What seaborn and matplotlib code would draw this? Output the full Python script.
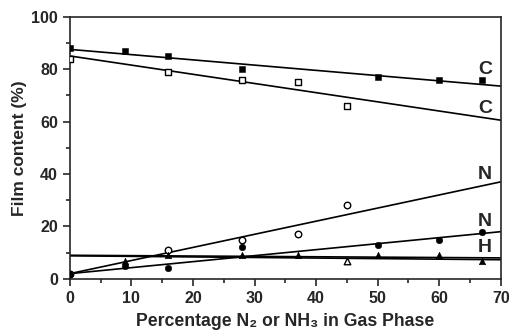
import numpy as np
import pandas as pd
import matplotlib.pyplot as plt
import seaborn as sns

# data
c_nh3_x = [0, 9, 16, 28, 50, 60, 67]
c_nh3_y = [88, 87, 85, 80, 77, 76, 76]
c_n2_x = [0, 16, 28, 37, 45]
c_n2_y = [84, 79, 76, 75, 66]
n_n2_x = [0, 16, 28, 37, 45]
n_n2_y = [2, 11, 15, 17, 28]
n_nh3_x = [0, 9, 16, 28, 50, 60, 67]
n_nh3_y = [2, 5, 4, 12, 13, 15, 18]
h_nh3_x = [9, 16, 28, 37, 50, 60, 67]
h_nh3_y = [7, 9, 9, 9, 9, 9, 7]
h_n2_x = [45]
h_n2_y = [7]

# fitted lines (end points)
fit_x = [0, 70]
fit_c_nh3 = [87.5, 73.5]
fit_c_n2 = [85, 60.5]
fit_n_n2 = [2, 37]
fit_n_nh3 = [2, 18]
fit_h_nh3 = [9, 8]
fit_h_n2 = [8.8, 7.3]

sns.set_style('ticks')
plt.rcParams['font.family'] = ['Liberation Sans', 'DejaVu Sans']
plt.rcParams['font.weight'] = 'bold'

fig = plt.figure(figsize=(5.1, 3.32), dpi=100)
ax = fig.add_axes([0.137, 0.16, 0.845, 0.79])

for fy in [fit_c_nh3, fit_c_n2, fit_n_n2, fit_n_nh3, fit_h_nh3, fit_h_n2]:
    sns.lineplot(x=fit_x, y=fy, ax=ax, color='black', lw=1.2)

ms = 22
sns.scatterplot(x=c_nh3_x, y=c_nh3_y, ax=ax, marker='s', color='black', s=ms, edgecolor='black', zorder=3)
sns.scatterplot(x=c_n2_x, y=c_n2_y, ax=ax, marker='s', facecolor='white', s=ms, edgecolor='black', linewidth=1, zorder=3)
sns.scatterplot(x=n_n2_x, y=n_n2_y, ax=ax, marker='o', facecolor='white', s=ms, edgecolor='black', linewidth=1, zorder=3)
sns.scatterplot(x=n_nh3_x, y=n_nh3_y, ax=ax, marker='o', color='black', s=ms, edgecolor='black', zorder=3)
sns.scatterplot(x=h_nh3_x, y=h_nh3_y, ax=ax, marker='^', color='black', s=ms, edgecolor='black', zorder=3)
sns.scatterplot(x=h_n2_x, y=h_n2_y, ax=ax, marker='^', facecolor='white', s=ms, edgecolor='black', linewidth=1, zorder=3)

lab_kw = dict(fontsize=14, fontweight='bold', ha='center', va='center')
ax.text(67.4, 80, 'C', **lab_kw)
ax.text(67.4, 65, 'C', **lab_kw)
ax.text(67.4, 39.8, 'N', **lab_kw)
ax.text(67.4, 22, 'N', **lab_kw)
ax.text(67.4, 12, 'H', **lab_kw)

ax.set_xlim(0, 70)
ax.set_ylim(0, 100)
ax.set_xticks(np.arange(0, 71, 10))
ax.set_xticks(np.arange(0, 71, 5), minor=True)
ax.set_yticks(np.arange(0, 101, 20))
ax.set_yticks(np.arange(0, 101, 10), minor=True)
ax.tick_params(which='major', length=5, width=1.2, labelsize=11.5, direction='out')
ax.tick_params(which='minor', length=3, width=1.2, direction='out')
for lab in ax.get_xticklabels() + ax.get_yticklabels():
    lab.set_fontweight('bold')
for sp in ax.spines.values():
    sp.set_linewidth(1.2)

ax.set_xlabel('Percentage N\u2082 or NH\u2083 in Gas Phase', fontsize=12.7, fontweight='bold', labelpad=5)
ax.set_ylabel('Film content (%)', fontsize=12.5, fontweight='bold', labelpad=3)

fig.savefig('out.png', dpi=100)
